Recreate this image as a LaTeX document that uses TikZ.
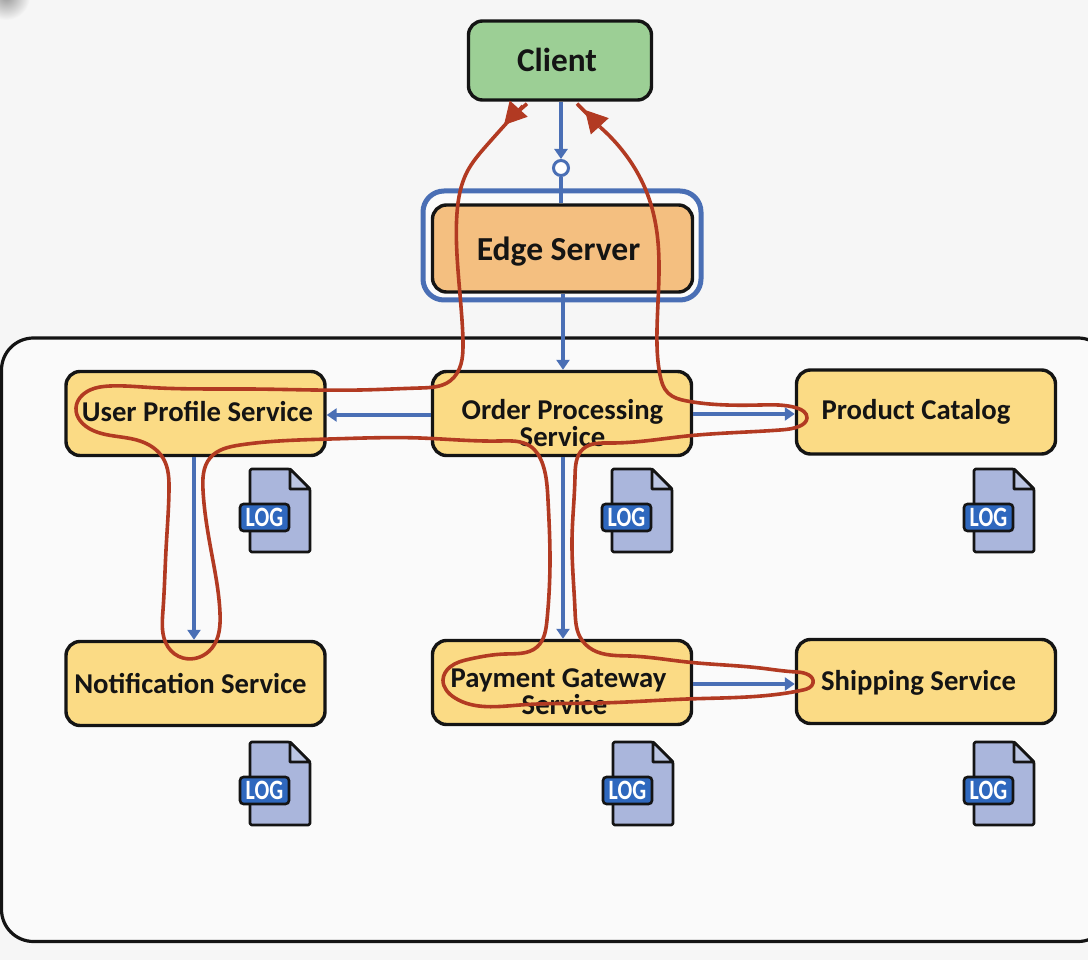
\documentclass[tikz,border=0pt]{standalone}
\usepackage{fontspec}
\setmainfont{Carlito}
\usetikzlibrary{arrows.meta,calc,hobby}
\definecolor{bgc}{HTML}{F6F6F6}
\definecolor{innerc}{HTML}{FAFAFA}
\definecolor{greenc}{HTML}{9CCF95}
\definecolor{orangec}{HTML}{F4BF80}
\definecolor{yellowc}{HTML}{FBDB85}
\definecolor{bluec}{HTML}{4A6FB5}
\definecolor{redc}{HTML}{B23A22}
\definecolor{docc}{HTML}{AAB6DC}
\definecolor{foldc}{HTML}{BCC6E3}
\definecolor{badgec}{HTML}{2F68BE}
\tikzset{
  x=1pt,y=-1pt,
  svc/.style={draw=black!92,line width=3.4pt,rounded corners=14pt,fill=yellowc,minimum width=259pt,minimum height=84pt,inner sep=0pt},
  svclabel/.style={inner sep=0pt,font=\bfseries\fontsize{28.7}{27}\selectfont,align=center,text=black!92},
  flow/.style={draw=bluec,line width=3.6pt,-{Triangle[length=10pt,width=13pt]}},
  plainflow/.style={draw=bluec,line width=3.6pt},
  trace/.style={draw=redc,line width=3.6pt,line join=round,use Hobby shortcut},
  traceline/.style={draw=redc,line width=3.6pt},
  tracetip/.style={draw=redc,line width=1pt,-{Triangle[length=22pt,width=24pt,fill=redc]}},
  logfile/.pic={
    \draw[black!92,line width=2.6pt,fill=docc,line join=round,rounded corners=1.5pt] (0,0) -- (40,0) -- (60,20) -- (60,83) -- (0,83) -- cycle;
    \draw[black!92,line width=2.6pt,fill=foldc,line join=round] (40,0) -- (60,20) -- (40,20) -- cycle;
    \node[draw=black!92,line width=2.6pt,fill=badgec,rounded corners=3.5pt,minimum width=49pt,minimum height=27pt,inner sep=0pt,
      text=white] (-badge) at (14.5,48.5) {\bfseries\scalebox{0.78}[1]{\fontsize{28}{28}\selectfont LOG}};
  }
}
\begin{document}
\begin{tikzpicture}
\useasboundingbox (0,0) rectangle (1088,960);
\clip (0,0) rectangle (1088,960);
\fill[bgc] (0,0) rectangle (1088,960);
\shade[inner color=black!40,outer color=bgc] (6,-4) circle (24);
% container
\draw[black!92,line width=3.2pt,fill=innerc,rounded corners=32pt] (1.5,338) rectangle (1110,941.5);
% edge halo
\draw[bluec,line width=5pt,fill=white!60!bgc,rounded corners=21pt] (423,191) rectangle (701,300);
% nodes
\node[svc,fill=greenc,minimum width=183pt,minimum height=79pt] (client) at (560,60.5) {};
\node[svclabel,font=\bfseries\fontsize{33.3}{33}\selectfont] (clientlabel) at (557,60) {Client};
\node[svc,fill=orangec,minimum width=260pt,minimum height=87pt] (edge) at (562.5,248.5) {};
\node[svclabel,font=\bfseries\fontsize{33.6}{33}\selectfont] (edgelabel) at (558.5,252) {Edge Server};
\node[svc] (user) at (195.5,413.5) {};
\node[svclabel] (userlabel) at (197.5,411.5) {User Profile Service};
\node[svc] (order) at (562,413.5) {};
\node[svclabel] (orderlabel) at (562.5,423) {Order Processing\\Service};
\node[svc] (catalog) at (926,412) {};
\node[svclabel] (cataloglabel) at (916,411.5) {Product Catalog};
\node[svc] (notif) at (195.5,683.5) {};
\node[svclabel] (notiflabel) at (190.5,684) {Notification Service};
\node[svc] (payment) at (562,682.5) {};
\node[svclabel] (paymentlabel) at (558.5,691.5) {Payment Gateway\\\hspace*{12pt}Service};
\node[svc] (shipping) at (926,681.5) {};
\node[svclabel] (shippinglabel) at (918.5,683) {Shipping Service};
% logs
\pic (l1) at (250,469) {logfile};
\pic (l2) at (612,469) {logfile};
\pic (l3) at (974,469) {logfile};
\pic (l4) at (250,742) {logfile};
\pic (l5) at (613,742) {logfile};
\pic (l6) at (974,742) {logfile};
% blue connectors
\node[circle,draw=bluec,line width=3pt,fill=white,minimum size=15pt,inner sep=0pt] (hop) at (561,168) {};
\draw[flow] (client.south -| hop) -- (hop.north);
\draw[plainflow] (hop.south) -- (hop |- edge.north);
\draw[flow] (edge.south -| 563,0) -- (order.north -| 563,0);
\draw[flow] (order.west) ++(0,1.5) -- ($(user.east)+(0,1.5)$);
\draw[flow] (order.east) ++(0,0.5) -- ($(catalog.west)+(0,2)$);
\draw[flow] (user.south -| 194,0) -- (notif.north -| 194,0);
\draw[flow] (order.south -| 563,0) -- (payment.north -| 563,0);
\draw[flow] (payment.east) ++(0,1.5) -- ($(shipping.west)+(0,2.5)$);
% red trace
\coordinate (ra) at ($(client.south)+(-33,2)$);
\coordinate (rb) at ($(client.south)+(17,2)$);
\coordinate (ta) at (504,125);
\coordinate (tb) at (585,110);
\coordinate (sa) at (513,116);
\coordinate (sb) at (600,127);
\draw[trace] (sa) .. (487,145) .. (467,172) .. (457,213) .. (457,255) .. (462,320) .. (463,345) .. (461,364) .. (450,381) .. (420,388)
 .. (360,390) .. (250,389) .. (150,387.5) .. (110,386) .. (90,390) .. (76,408) .. (92,430) .. (140,441) .. (163,458) .. (169,490)
 .. (166,550) .. (163,610) .. (168,647) .. (183,658) .. (212,648) .. (220,613) .. (211,550) .. (203,490) .. (210,458) .. (240,445)
 .. (330,439) .. (420,438) .. (500,441) .. (530,446) .. (543,465) .. (548,500) .. (550,560) .. (547,620) .. (537,647) .. (505,654) .. (470,659)
 .. (450,667) .. (443,680) .. (455,698) .. (520,705) .. (600,703) .. (687,699) .. (780,694) .. (803,690) .. (813,683) .. (797,672) .. (760,668) .. (687,662) .. (630,656) .. (593,650)
 .. (580,637) .. (575,610) .. (572,540) .. (575,477) .. (583,449) .. (610,443) .. (687,436) .. (780,430) .. (800,426) .. (807,418) .. (797,408) .. (760,405) .. (687,401) .. (668,393)
 .. (660,375) .. (657,330) .. (657,233) .. (647,193) .. (622,150) .. (sb);
\draw[traceline] (sb) -- (rb);
\draw[traceline] (ra) -- (sa);
\draw[tracetip] (sa) ++(9,-11) -- (ta);
\draw[tracetip] (sb) ++(5,5) -- (tb);
\end{tikzpicture}
\end{document}
